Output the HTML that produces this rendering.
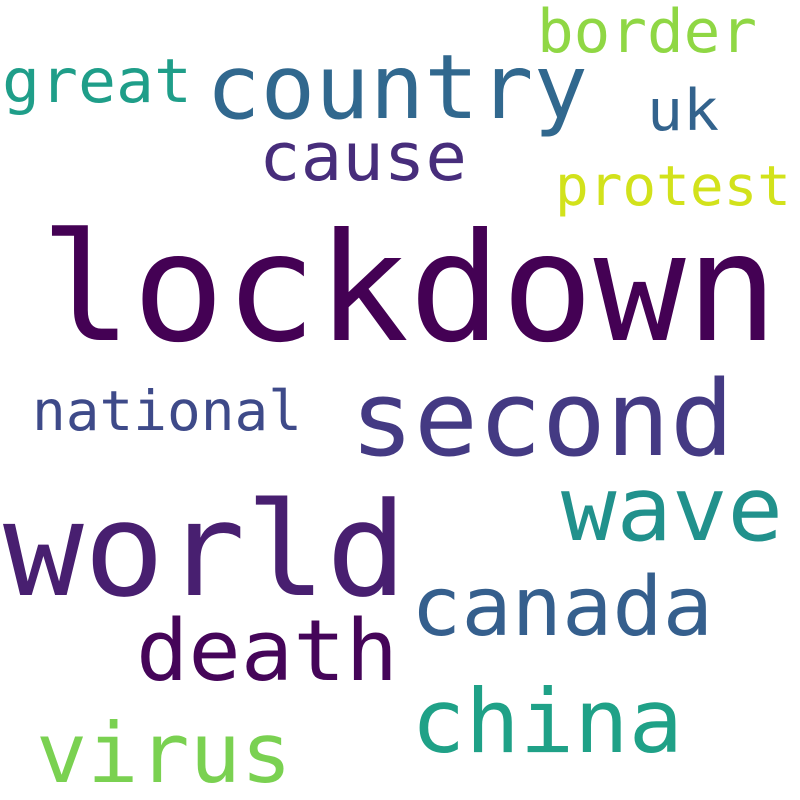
<!DOCTYPE html>
<html><head><meta charset="utf-8"><style>
html,body{margin:0;padding:0;background:#fff;}
svg{display:block;}
text{font-family:"DejaVu Sans Mono","Liberation Mono",monospace;}
</style></head><body>
<svg width="800" height="800" viewBox="0 0 800 800">
<rect width="800" height="800" fill="#fff"/>
<text x="40" y="340" font-size="150" fill="#440154" textLength="738" lengthAdjust="spacingAndGlyphs">lockdown</text>
<text x="3" y="595" font-size="130" fill="#481f70" textLength="404" lengthAdjust="spacingAndGlyphs">world</text>
<text x="350" y="455" font-size="104" fill="#443a83" textLength="384" lengthAdjust="spacingAndGlyphs">second</text>
<text x="206" y="118" font-size="89" fill="#31688e" textLength="382" lengthAdjust="spacingAndGlyphs">country</text>
<text x="561" y="540" font-size="89" fill="#21918c" textLength="222" lengthAdjust="spacingAndGlyphs">wave</text>
<text x="411" y="635" font-size="82" fill="#355f8d" textLength="302" lengthAdjust="spacingAndGlyphs">canada</text>
<text x="136" y="680" font-size="85" fill="#450559" textLength="262" lengthAdjust="spacingAndGlyphs">death</text>
<text x="411" y="752" font-size="88" fill="#1fa187" textLength="272" lengthAdjust="spacingAndGlyphs">china</text>
<text x="36" y="782" font-size="83" fill="#7ad151" textLength="256" lengthAdjust="spacingAndGlyphs">virus</text>
<text x="32" y="430" font-size="55" fill="#3e4a89" textLength="270" lengthAdjust="spacingAndGlyphs">national</text>
<text x="259" y="180" font-size="67" fill="#472d7b" textLength="208" lengthAdjust="spacingAndGlyphs">cause</text>
<text x="2" y="102" font-size="61" fill="#1f9e89" textLength="190" lengthAdjust="spacingAndGlyphs">great</text>
<text x="537" y="52" font-size="60" fill="#8fd744" textLength="220" lengthAdjust="spacingAndGlyphs">border</text>
<text x="647" y="130" font-size="57" fill="#33638d" textLength="72" lengthAdjust="spacingAndGlyphs">uk</text>
<text x="555" y="205" font-size="55" fill="#d2e21b" textLength="236" lengthAdjust="spacingAndGlyphs">protest</text>
</svg>
</body></html>
